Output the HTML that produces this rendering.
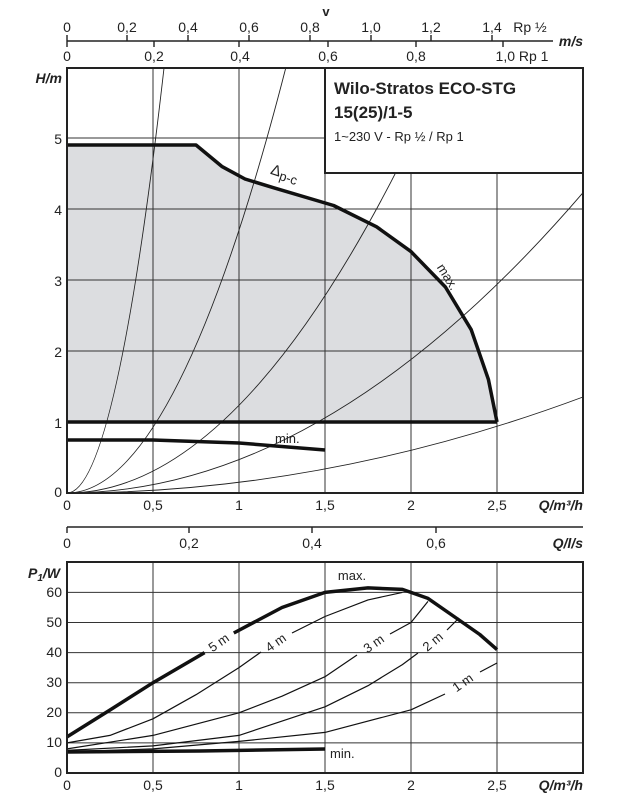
<!DOCTYPE html>
<html><head><meta charset="utf-8"><style>
html,body{margin:0;padding:0;background:#fff;}
svg{display:block;}
text{font-family:"Liberation Sans",sans-serif;fill:#222;}
.t{font-size:14px;}
.b{font-weight:bold;font-style:italic;font-size:14px;}
</style></head><body>
<svg width="629" height="800" viewBox="0 0 629 800" xmlns="http://www.w3.org/2000/svg">
<!-- top velocity axes -->
<line x1="67" y1="41" x2="553" y2="41" stroke="#222" stroke-width="1.6"/>
<g stroke="#222" stroke-width="1.4">
<line x1="67" y1="35" x2="67" y2="47"/>
<line x1="127" y1="35" x2="127" y2="41"/><line x1="188" y1="35" x2="188" y2="41"/><line x1="249" y1="35" x2="249" y2="41"/><line x1="310" y1="35" x2="310" y2="41"/><line x1="371" y1="35" x2="371" y2="41"/><line x1="431" y1="35" x2="431" y2="41"/><line x1="492" y1="35" x2="492" y2="41"/>
<line x1="154" y1="41" x2="154" y2="47"/><line x1="239" y1="41" x2="239" y2="47"/><line x1="328" y1="41" x2="328" y2="47"/><line x1="416" y1="41" x2="416" y2="47"/><line x1="503" y1="41" x2="503" y2="47"/>
</g>
<g class="t" text-anchor="middle">
<text x="67" y="32">0</text><text x="127" y="32">0,2</text><text x="188" y="32">0,4</text><text x="249" y="32">0,6</text><text x="310" y="32">0,8</text><text x="371" y="32">1,0</text><text x="431" y="32">1,2</text><text x="492" y="32">1,4</text><text x="530" y="32">Rp ½</text>
<text x="67" y="61">0</text><text x="154" y="61">0,2</text><text x="240" y="61">0,4</text><text x="328" y="61">0,6</text><text x="416" y="61">0,8</text><text x="522" y="61">1,0 Rp 1</text>
</g>
<text x="326" y="16" text-anchor="middle" style="font-size:13px;font-weight:bold">v</text>
<text x="583" y="46" text-anchor="end" class="b">m/s</text>

<!-- top chart -->
<path d="M67,145 L196,145 L221.8,166.4 L245,179 L273.4,187.7 L333.6,205.5 L376.6,226.8 L411,251.6 L445.4,287 L471.2,329.7 L488.4,379.4 L497,422 L67,422 Z" fill="#dcdde0"/>
<g stroke="#333" stroke-width="1">
<line x1="153" y1="68" x2="153" y2="493"/><line x1="239" y1="68" x2="239" y2="493"/><line x1="325" y1="68" x2="325" y2="493"/><line x1="411" y1="68" x2="411" y2="493"/><line x1="497" y1="68" x2="497" y2="493"/>
<line x1="67" y1="138" x2="583" y2="138"/><line x1="67" y1="209" x2="583" y2="209"/><line x1="67" y1="280" x2="583" y2="280"/><line x1="67" y1="351" x2="583" y2="351"/>
</g>
<g fill="none" stroke="#222" stroke-width="0.9">
<path d="M67,493 Q115.5,493 163.9,69"/>
<path d="M67,493 Q176.2,493 285.5,69"/>
<path d="M67,493 Q256.1,493 445.2,69"/>
<path d="M67,493 Q325,493 583,192.7"/>
<path d="M67,493 Q325,493 583,397"/>
</g>
<rect x="325" y="68" width="258" height="105" fill="#fff" stroke="#222" stroke-width="2"/>
<text x="334" y="94" style="font-size:17px;font-weight:bold">Wilo-Stratos ECO-STG</text>
<text x="334" y="118" style="font-size:17px;font-weight:bold">15(25)/1-5</text>
<text x="334" y="141" style="font-size:13px">1~230 V - Rp ½ / Rp 1</text>
<path d="M67,145 L196,145 L221.8,166.4 L245,179 L273.4,187.7 L333.6,205.5 L376.6,226.8 L411,251.6 L445.4,287 L471.2,329.7 L488.4,379.4 L497,422" fill="none" stroke="#111" stroke-width="3.5" stroke-linejoin="round"/>
<rect x="268" y="165" width="50" height="22" fill="#fff" transform="rotate(18 290 176)"/>
<text x="270" y="180" style="font-size:15px" transform="rotate(18 290 176)">Δ<tspan style="font-size:13px" dy="3">p-c</tspan></text>
<text x="425" y="272" style="font-size:13px" transform="rotate(58 435 280)">max.</text>
<line x1="67" y1="422" x2="497" y2="422" stroke="#111" stroke-width="3.5"/>
<path d="M67,440 L153,440 L239,443 L325,450" fill="none" stroke="#111" stroke-width="3.5"/>
<text x="275" y="443" style="font-size:13px">min.</text>
<rect x="67" y="68" width="516" height="425" fill="none" stroke="#222" stroke-width="2"/>
<g class="t" text-anchor="end">
<text x="62" y="144">5</text><text x="62" y="215">4</text><text x="62" y="286">3</text><text x="62" y="357">2</text><text x="62" y="428">1</text><text x="62" y="497">0</text>
</g>
<text x="62" y="83" text-anchor="end" class="b">H/m</text>
<g class="t" text-anchor="middle">
<text x="67" y="510">0</text><text x="153" y="510">0,5</text><text x="239" y="510">1</text><text x="325" y="510">1,5</text><text x="411" y="510">2</text><text x="497" y="510">2,5</text>
</g>
<text x="583" y="510" text-anchor="end" class="b">Q/m³/h</text>

<!-- l/s axis -->
<line x1="67" y1="527" x2="583" y2="527" stroke="#222" stroke-width="1.6"/>
<g stroke="#222" stroke-width="1.4"><line x1="67" y1="527" x2="67" y2="533"/><line x1="189" y1="527" x2="189" y2="533"/><line x1="312" y1="527" x2="312" y2="533"/><line x1="436" y1="527" x2="436" y2="533"/></g>
<g class="t" text-anchor="middle"><text x="67" y="548">0</text><text x="189" y="548">0,2</text><text x="312" y="548">0,4</text><text x="436" y="548">0,6</text></g>
<text x="583" y="548" text-anchor="end" class="b">Q/l/s</text>

<!-- bottom chart -->
<g stroke="#333" stroke-width="1">
<line x1="153" y1="562" x2="153" y2="773"/><line x1="239" y1="562" x2="239" y2="773"/><line x1="325" y1="562" x2="325" y2="773"/><line x1="411" y1="562" x2="411" y2="773"/><line x1="497" y1="562" x2="497" y2="773"/>
<line x1="67" y1="592.4" x2="583" y2="592.4"/><line x1="67" y1="622.5" x2="583" y2="622.5"/><line x1="67" y1="652.6" x2="583" y2="652.6"/><line x1="67" y1="682.7" x2="583" y2="682.7"/><line x1="67" y1="712.8" x2="583" y2="712.8"/><line x1="67" y1="742.9" x2="583" y2="742.9"/>
</g>
<g fill="none" stroke="#111" stroke-width="1.2" stroke-linejoin="round">
<path d="M67,742.9 L110,735.4 L153,718.8 L196,694.7 L239,667.6 L261,652"/>
<path d="M292,633 L325,616.5 L368,599.9 L402.4,592.4"/>
<path d="M67,748.9 L153,735.4 L239,712.8 L282,696.2 L325,676.7 L357,655"/>
<path d="M390,634 L411,622.5 L428,601.4"/>
<path d="M67,750.4 L153,745.9 L239,735.4 L325,706.8 L368,685.7 L402.4,664.6 L418,653"/>
<path d="M447,630 L459,618"/>
<path d="M67,751.9 L153,748.9 L239,741.4 L325,732.4 L411,709.8 L445,694"/>
<path d="M480,672 L497,663"/>
</g>
<path d="M67,736.9 L110,710 L153,682.7 L204.6,652.6" fill="none" stroke="#111" stroke-width="3.5"/>
<path d="M233.8,633 L282,607.5 L325,592.4 L368,587.9 L402.4,589.4 L428,598.4 L454,616.5 L479.8,634.5 L497,649.6" fill="none" stroke="#111" stroke-width="3.5" stroke-linejoin="round"/>
<path d="M67,752 L200,751 L325,749" fill="none" stroke="#111" stroke-width="3.5"/>
<g style="font-size:13px" text-anchor="middle">
<text x="219" y="647" transform="rotate(-35 219 643)">5 m</text>
<text x="276" y="647" transform="rotate(-35 276 643)">4 m</text>
<text x="374" y="648" transform="rotate(-35 374 644)">3 m</text>
<text x="433" y="646" transform="rotate(-40 433 642)">2 m</text>
<text x="463" y="687" transform="rotate(-35 463 683)">1 m</text>
</g>
<text x="352" y="580" style="font-size:13px" text-anchor="middle">max.</text>
<text x="330" y="758" style="font-size:13px">min.</text>
<rect x="67" y="562" width="516" height="211" fill="none" stroke="#222" stroke-width="2"/>
<g class="t" text-anchor="end">
<text x="62" y="597">60</text><text x="62" y="627">50</text><text x="62" y="657">40</text><text x="62" y="687">30</text><text x="62" y="717">20</text><text x="62" y="747">10</text><text x="62" y="777">0</text>
</g>
<text x="60" y="578" text-anchor="end" class="b">P<tspan style="font-size:10px" dy="3">1</tspan><tspan dy="-3">/W</tspan></text>
<g class="t" text-anchor="middle">
<text x="67" y="790">0</text><text x="153" y="790">0,5</text><text x="239" y="790">1</text><text x="325" y="790">1,5</text><text x="411" y="790">2</text><text x="497" y="790">2,5</text>
</g>
<text x="583" y="790" text-anchor="end" class="b">Q/m³/h</text>
</svg>
</body></html>
